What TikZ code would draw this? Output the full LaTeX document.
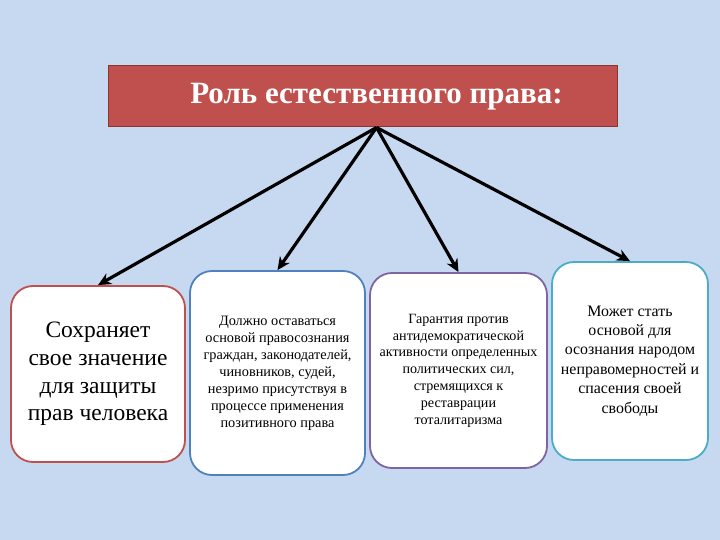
\documentclass[tikz,border=0pt]{standalone}
\usepackage{fontspec}
\setmainfont{Liberation Serif}
\usetikzlibrary{positioning, arrows.meta}
\definecolor{slideblue}{RGB}{198, 217, 240}
\definecolor{titlered}{RGB}{192, 80, 77}
\definecolor{titleedge}{RGB}{140, 52, 50}
\definecolor{edgered}{RGB}{192, 80, 77}
\definecolor{edgeblue}{RGB}{79, 129, 189}
\definecolor{edgeviolet}{RGB}{128, 100, 162}
\definecolor{edgeteal}{RGB}{75, 172, 198}

\begin{document}
\begin{tikzpicture}[
  x=1pt, y=-1pt,
  rolebox/.style={
    rectangle, rounded corners=22pt,
    draw=#1, fill=white, line width=1.8pt,
    align=center, inner sep=3pt
  },
  rolearrow/.style={
    -{Stealth[length=13pt, width=12pt]}, line width=3.2pt, black
  }
]

\fill[slideblue] (0,0) rectangle (720,540);

\node[rectangle, fill=titlered, draw=titleedge, line width=1pt,
      minimum width=509pt, minimum height=61pt, text=white,
      font=\fontsize{31}{36}\selectfont\bfseries]
  (title) at (362.5,96.5) {\hspace*{28pt}Роль естественного права:};

\coordinate (hub) at ([xshift=14pt]title.south);

% Box 1
\node[rolebox=edgered, minimum width=174pt, minimum height=176pt,
      font=\fontsize{23.5}{27.7}\selectfont]
  (b1) at (98,374) {Сохраняет\\свое значение\\для защиты\\прав человека};

% Box 2
\node[rolebox=edgeblue, minimum width=175pt, minimum height=204pt,
      font=\fontsize{14.3}{17}\selectfont]
  (b2) at (277.5,373) {Должно оставаться\\основой правосознания\\граждан, законодателей,\\чиновников, судей,\\незримо присутствуя в\\процессе применения\\позитивного права};

% Box 3
\node[rolebox=edgeviolet, minimum width=177pt, minimum height=195pt,
      font=\fontsize{14.1}{16.8}\selectfont]
  (b3) at (458.5,370.5) {Гарантия против\\антидемократической\\активности определенных\\политических сил,\\стремящихся к\\реставрации\\тоталитаризма};

% Box 4
\node[rolebox=edgeteal, minimum width=156pt, minimum height=198pt,
      font=\fontsize{15.9}{19.4}\selectfont]
  (b4) at (630,361) {Может стать\\основой для\\осознания народом\\неправомерностей и\\спасения своей\\свободы};

\foreach \b in {b1, b2, b3, b4}
  \draw[rolearrow] (hub) -- (\b.north);

\end{tikzpicture}
\end{document}
